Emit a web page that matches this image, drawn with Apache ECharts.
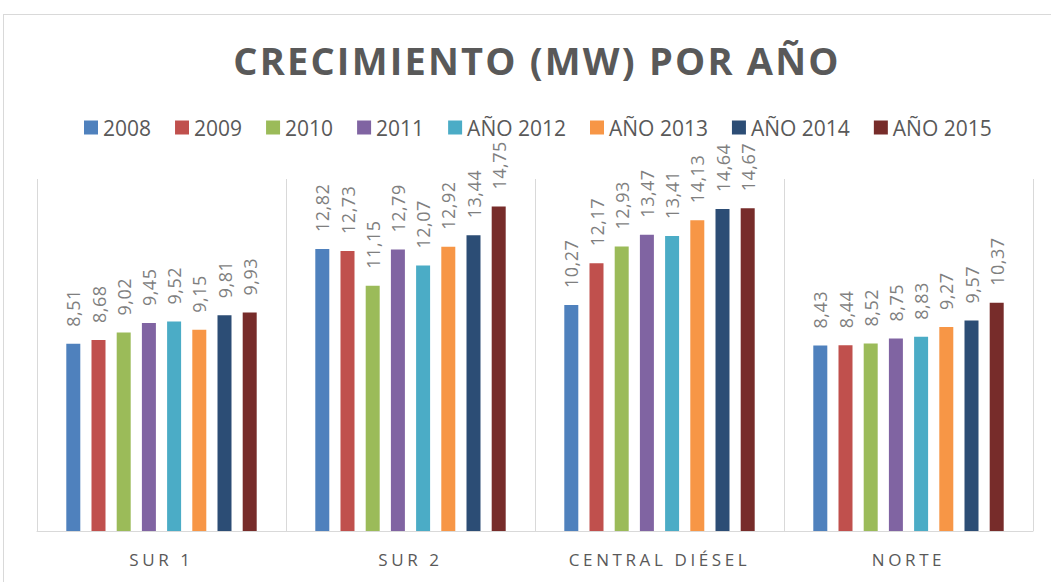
<!DOCTYPE html>
<html>
<head>
<meta charset="utf-8">
<script src="https://cdn.jsdelivr.net/npm/echarts@6/dist/echarts.min.js"></script>
<style>
  html, body { margin: 0; padding: 0; background: #ffffff; }
  #chart { width: 1051px; height: 582px; }
  .frame {
    position: absolute; left: 3px; top: 14px; width: 1100px; height: 600px;
    border: 1px solid #d9d9d9; pointer-events: none;
  }
</style>
</head>
<body>
<div id="chart"></div>
<div class="frame"></div>
<script>
const categories = ['SUR 1', 'SUR 2', 'CENTRAL DIÉSEL', 'NORTE']
const seriesNames = ['2008', '2009', '2010', '2011', 'AÑO 2012', 'AÑO 2013', 'AÑO 2014', 'AÑO 2015']
// values per year, in category order
const v2008 = [8.51, 12.82, 10.27, 8.43]
const v2009 = [8.68, 12.73, 12.17, 8.44]
const v2010 = [9.02, 11.15, 12.93, 8.52]
const v2011 = [9.45, 12.79, 13.47, 8.75]
const v2012 = [9.52, 12.07, 13.41, 8.83]
const v2013 = [9.15, 12.92, 14.13, 9.27]
const v2014 = [9.81, 13.44, 14.64, 9.57]
const v2015 = [9.93, 14.75, 14.67, 10.37]
const seriesValues = [v2008, v2009, v2010, v2011, v2012, v2013, v2014, v2015]
const colors = ['#4f81bd', '#c0504d', '#9bbb59', '#8064a2', '#4bacc6', '#f79646', '#2c4d75', '#772c2a']
const titleText = 'CRECIMIENTO (MW) POR AÑO'

const chart = echarts.init(document.getElementById('chart'), null, { renderer: 'svg' })

const option = {
  animation: false,
  backgroundColor: '#ffffff',
  color: colors,
  title: {
    text: titleText,
    left: 532,
    textAlign: 'center',
    top: 36,
    textStyle: {
      fontFamily: 'Open Sans',
      fontWeight: 'bold',
      fontSize: 38,
      color: '#595959'
    }
  },
  legend: {
    data: seriesNames,
    left: 84,
    top: 117,
    padding: 0,
    icon: 'rect',
    itemWidth: 14,
    itemHeight: 14,
    itemGap: 24,
    textStyle: {
      fontFamily: 'Open Sans',
      fontSize: 21,
      color: '#595959'
    }
  },
  grid: {
    left: 37,
    right: 18,
    top: 179,
    bottom: 51
  },
  xAxis: {
    type: 'category',
    data: categories,
    axisLine: { lineStyle: { color: '#d9d9d9', width: 1 } },
    axisTick: { show: false },
    splitLine: { show: true, interval: 0, lineStyle: { color: '#d9d9d9', width: 1 } },
    axisLabel: {
      margin: 20,
      fontFamily: 'Open Sans',
      fontSize: 17,
      color: '#595959'
    }
  },
  yAxis: {
    type: 'value',
    min: 0,
    max: 16,
    show: false,
    splitLine: { show: false }
  },
  series: seriesNames.map((name, i) => ({
    name: name,
    type: 'bar',
    data: seriesValues[i],
    barWidth: 14,
    barGap: '80%',
    label: {
      show: true,
      position: 'top',
      distance: 17,
      rotate: 90,
      align: 'left',
      verticalAlign: 'middle',
      fontFamily: 'Open Sans',
      fontSize: 18,
      color: '#7f7f7f',
      formatter: p => p.value.toFixed(2).replace('.', ',')
    }
  }))
}

chart.setOption(option)

// Excel-style letter spacing on some texts (svg renderer)
const spaceTexts = () => {
  document.querySelectorAll('#chart svg text').forEach(t => {
    const s = t.textContent
    if (s === titleText) t.setAttribute('letter-spacing', '2.2')
    else if (categories.includes(s)) t.setAttribute('letter-spacing', '3.6')
    else if (/^\d+,\d+$/.test(s)) t.setAttribute('letter-spacing', '0.5')
  })
}
spaceTexts()
chart.on('finished', spaceTexts)
</script>
</body>
</html>
